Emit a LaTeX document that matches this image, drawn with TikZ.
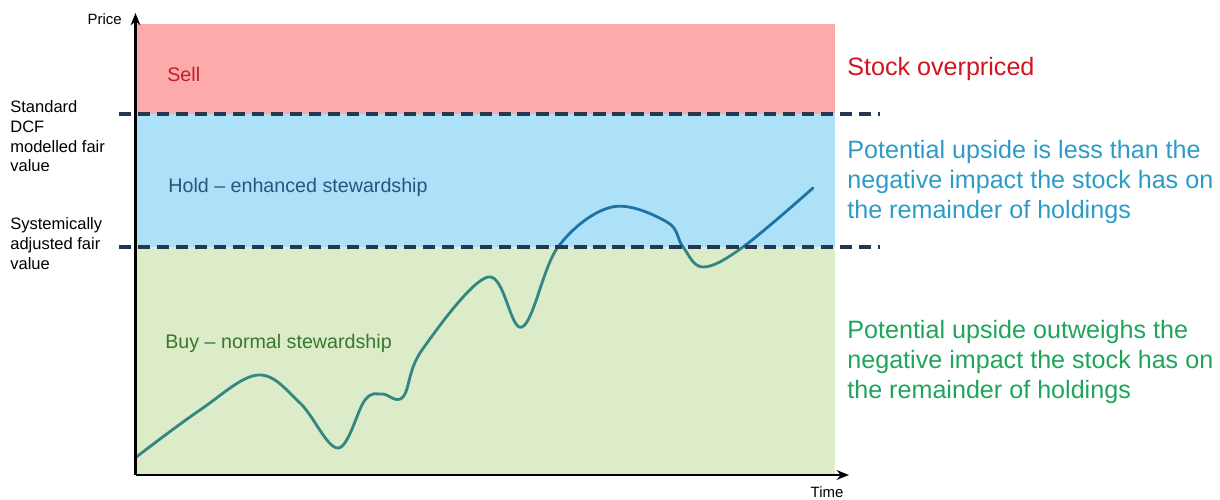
\documentclass[tikz,border=0pt]{standalone}
\usepackage{fontspec}
\setmainfont{Liberation Sans}
\usetikzlibrary{arrows.meta}
\definecolor{sellfill}{RGB}{252,170,170}
\definecolor{holdfill}{RGB}{172,225,247}
\definecolor{buyfill}{RGB}{220,235,200}
\definecolor{selltxt}{RGB}{196,30,40}
\definecolor{holdtxt}{RGB}{40,85,125}
\definecolor{buytxt}{RGB}{55,120,45}
\definecolor{redtxt}{RGB}{210,20,30}
\definecolor{bluetxt}{RGB}{45,155,200}
\definecolor{greentxt}{RGB}{30,165,90}
\definecolor{dashc}{RGB}{40,55,80}
\definecolor{curveblue}{RGB}{30,115,165}
\definecolor{curvegreen}{RGB}{50,135,130}
\begin{document}
\begin{tikzpicture}[x=0.02cm,y=-0.02cm,
  zone/.style={inner sep=0,anchor=base west,font=\fontsize{11.2}{13}\selectfont},
  side/.style={inner sep=0,anchor=base west,align=left,font=\fontsize{14.3}{17}\selectfont},
  lab/.style={inner sep=0,anchor=base west,align=left,font=\fontsize{9.4}{11.3}\selectfont},
  axlab/.style={inner sep=0,font=\fontsize{8.5}{10}\selectfont},
  fairline/.style={dashc,line width=1.8pt,dash pattern=on 7pt off 3.8pt},
  axis/.style={black,line width=1.2pt,-{Stealth[length=7pt,width=5.5pt]}},
  curve/.style={line width=1.6pt,line cap=round,line join=round}]
\useasboundingbox (0,0) rectangle (1220,500);
% zones
\fill[sellfill] (137,24) rectangle (835,114);
\fill[holdfill] (137,114) rectangle (835,247);
\fill[buyfill] (137,247) rectangle (835,475);
% curve
\def\pricepath{plot[smooth,tension=0.6] coordinates {(135,458) (200,410) (258,375) (300,403) (338,448) (365,400) (382,394) (403,397) (422,350) (488,277) (522,327) (558,247) (612,207) (667,222) (683,247) (703,267) (743,247) (813,188)}}
\begin{scope}
\clip (130,100) rectangle (840,247);
\draw[curve,curveblue] \pricepath;
\end{scope}
\begin{scope}
\clip (130,247) rectangle (840,480);
\draw[curve,curvegreen] \pricepath;
\end{scope}
% dashed fair value lines
\coordinate (d1a) at (119,114); \coordinate (d1b) at (880,114);
\coordinate (d2a) at (119,247); \coordinate (d2b) at (880,247);
\draw[fairline] (d1a) -- (d1b);
\draw[fairline] (d2a) -- (d2b);
% axes
\coordinate (o) at (135.5,475);
\coordinate (ytop) at (135.5,13);
\coordinate (xend) at (849,475);
\draw[axis] (o) -- (ytop);
\draw[axis] (o) -- (xend);
\node[axlab,anchor=base east] (price) at (122,25) {Price};
\node[axlab,anchor=base] (time) at (827,497) {Time};
% zone labels
\node[zone,selltxt] (sell) at (167,82) {Sell};
\node[zone,holdtxt] (hold) at (168,192) {Hold -- enhanced stewardship};
\node[zone,buytxt] (buy) at (165,348) {Buy -- normal stewardship};
% left labels (anchor = baseline of last line)
\node[lab] (dcf) at (10,172) {Standard\\DCF\\modelled fair\\value};
\node[lab] (sys) at (10,269) {Systemically\\adjusted fair\\value};
% right texts
\node[side,redtxt] (over) at (847,76) {Stock overpriced};
\node[side,bluetxt] (less) at (847,218) {Potential upside is less than the\\negative impact the stock has on\\the remainder of holdings};
\node[side,greentxt] (outw) at (847,398) {Potential upside outweighs the\\negative impact the stock has on\\the remainder of holdings};
\end{tikzpicture}
\end{document}
